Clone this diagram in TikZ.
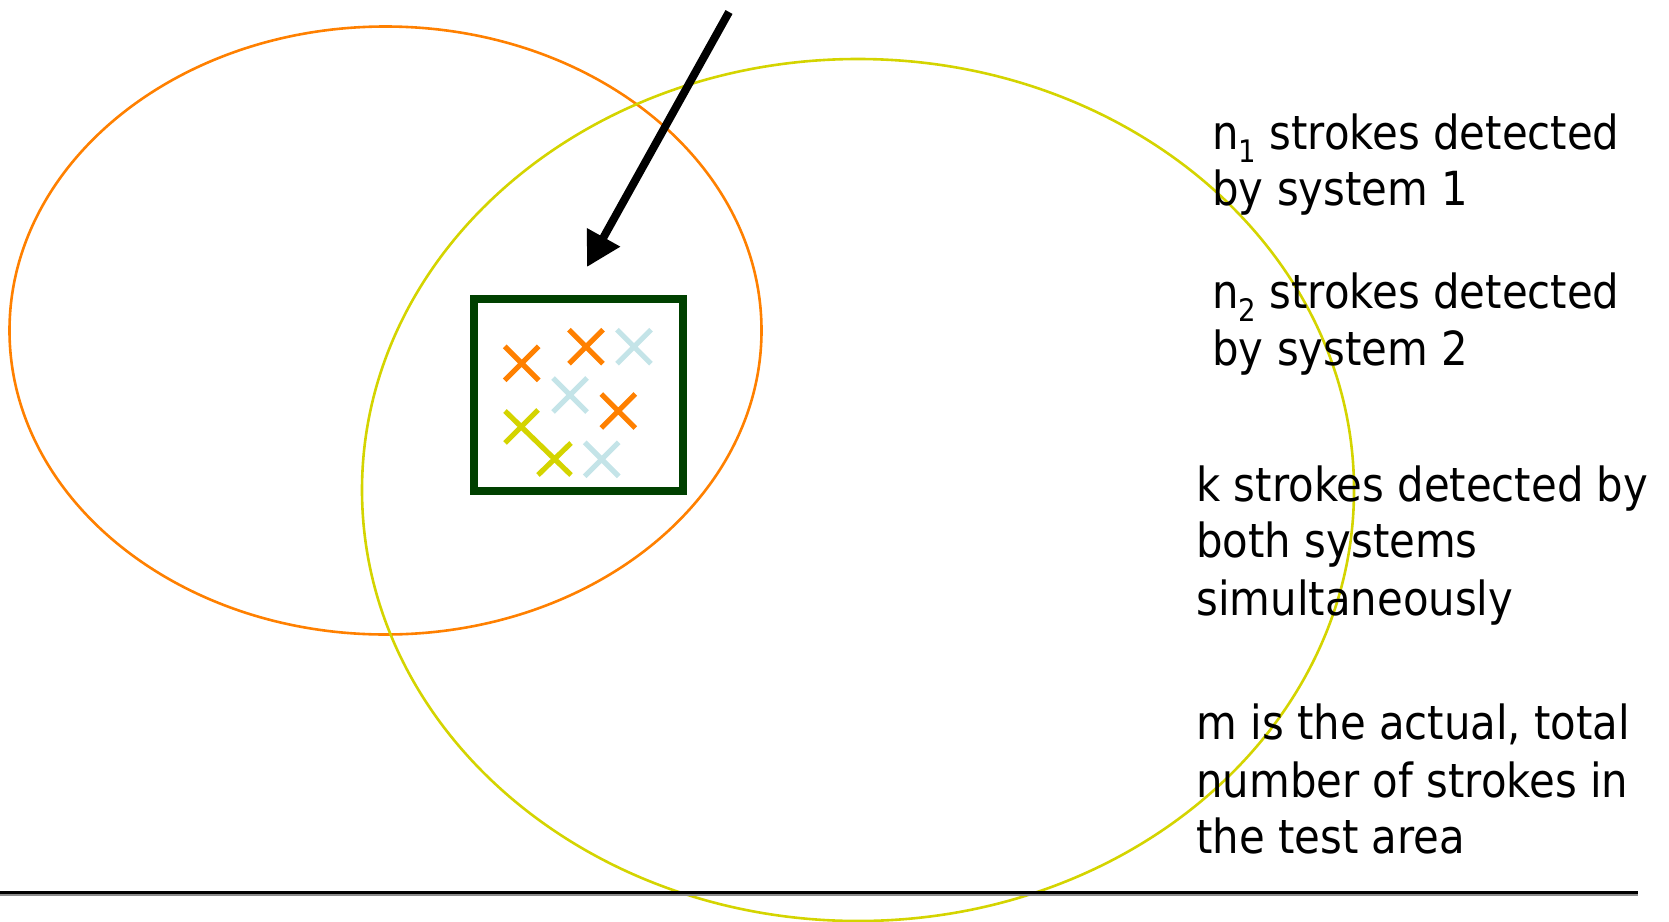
\documentclass[tikz,border=0pt]{standalone}
\usepackage{fontspec}
\setmainfont[FakeStretch=0.89]{DejaVu Sans}
\usetikzlibrary{arrows.meta}
\definecolor{ellOrange}{RGB}{255,128,0}
\definecolor{ellYellow}{RGB}{212,212,0}
\definecolor{boxGreen}{RGB}{0,64,0}
\definecolor{crossBlue}{RGB}{196,228,232}
\definecolor{shadowGray}{RGB}{140,140,140}
\tikzset{
  ellline/.style={line width=1.3pt},
  crossline/.style={line width=2.6pt},
  xmark/.pic={\draw[crossline] (-17,-17) -- (17,17) (-17,17) -- (17,-17);},
  lbl/.style={anchor=base west, inner sep=0pt, font=\fontsize{23.5pt}{28.5pt}\selectfont},
}
\newcommand{\mysub}[1]{\raisebox{-0.28em}{\fontsize{15.5pt}{16pt}\selectfont #1}}
\begin{document}
\begin{tikzpicture}[x=0.5pt,y=-0.5pt]
\useasboundingbox (0,0) rectangle (1669,921);
% ellipses
\draw[ellline, ellOrange] (385.5,330.5) ellipse [x radius=376, y radius=304];
\draw[ellline, ellYellow] (858,490) ellipse [x radius=496, y radius=431];
% box
\node[draw=boxGreen, line width=4pt, minimum width=104.5pt, minimum height=96pt, inner sep=0pt] (box) at (578.5,395) {};
% crosses
\pic[ellOrange] at (521.7,363.3) {xmark};
\pic[ellOrange] at (586,346.7) {xmark};
\pic[crossBlue] at (634,346.7) {xmark};
\pic[crossBlue] at (570,395) {xmark};
\pic[ellOrange] at (618.3,411) {xmark};
\pic[crossBlue] at (601.7,459.3) {xmark};
\draw[crossline, ellYellow] (505,443) -- (538,410) (505,411) -- (571,475) (538,475) -- (571,443);
% arrow
\coordinate (arrS) at (729,12);
\coordinate (arrT) at (587,267);
\draw[line width=4pt, -{Triangle[length=17pt,width=18pt]}] (arrS) -- (arrT);
% labels
\node[lbl] (n1a) at (1212,149) {n\mysub{1} strokes detected};
\node[lbl] (n1b) at (1212,205) {by system 1};
\node[lbl] (n2a) at (1212,308) {n\mysub{2} strokes detected};
\node[lbl] (n2b) at (1212,365) {by system 2};
\node[lbl] (ka) at (1196,501) {k strokes detected by};
\node[lbl] (kb) at (1196,557) {both systems};
\node[lbl] (kc) at (1196,615) {simultaneously};
\node[lbl] (ma) at (1196,739) {m is the actual, total};
\node[lbl] (mb) at (1196,797) {number of strokes in};
\node[lbl] (mc) at (1196,853) {the test area};
% bottom rule
\coordinate (ruleL) at (0,892);
\coordinate (ruleR) at (1638,892);
\draw[shadowGray, line width=1pt] ([yshift=-1.4pt]ruleL) -- ([yshift=-1.4pt]ruleR);
\draw[black, line width=1.5pt] (ruleL) -- (ruleR);
\end{tikzpicture}
\end{document}
